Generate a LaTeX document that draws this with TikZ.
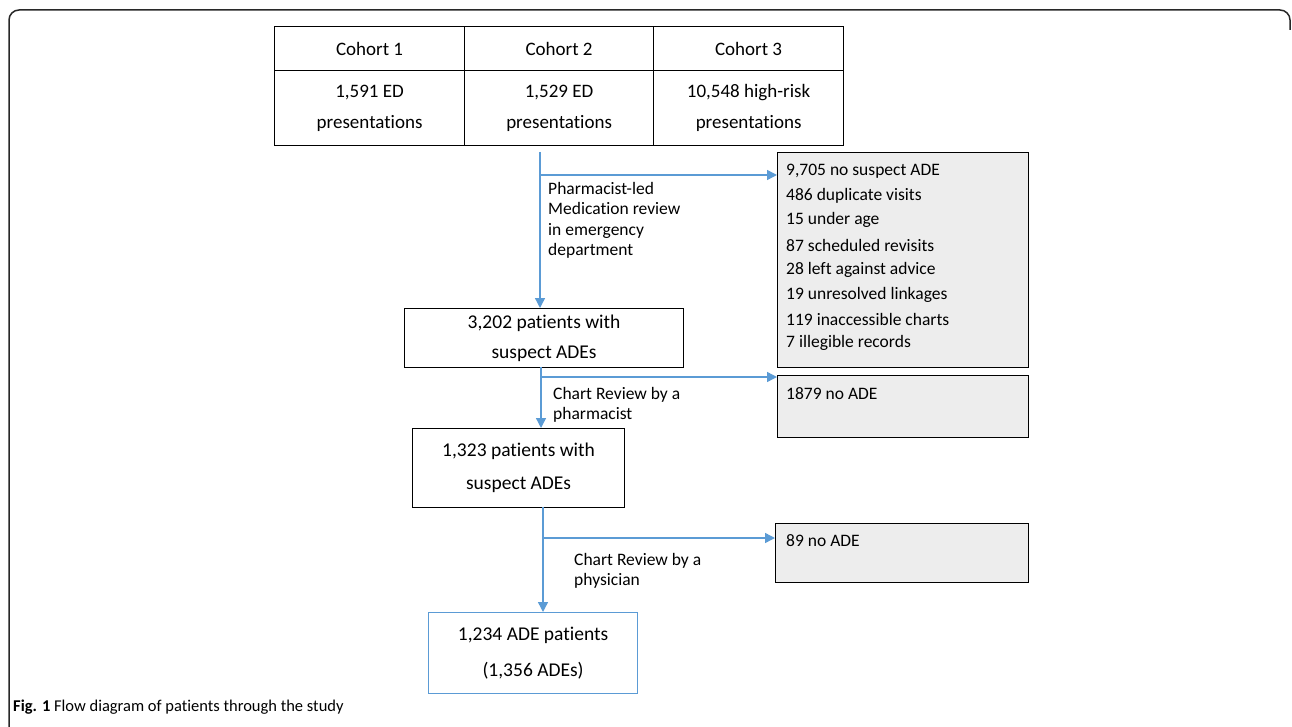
\documentclass[tikz,border=0pt]{standalone}
\usepackage{fontspec}
\setmainfont{Carlito}[Ligatures=NoCommon]
\usetikzlibrary{arrows.meta}
\definecolor{flowblue}{RGB}{91,155,213}
\definecolor{boxgray}{RGB}{237,237,237}
\definecolor{framegray}{RGB}{40,40,40}
\tikzset{
  cell/.style={draw=black, line width=1.2pt, inner sep=0pt, align=center, anchor=north west, font=\fontsize{19}{31}\selectfont},
  mainbox/.style={draw=black, line width=1.2pt, inner sep=0pt, align=center, anchor=north west, font=\fontsize{19.5}{30}\selectfont},
  graybox/.style={draw=black, line width=1.2pt, fill=boxgray, inner sep=0pt, anchor=north west},
  graytext/.style={anchor=west, inner sep=0pt, font=\fontsize{17.5}{20}\selectfont},
  flowlbl/.style={anchor=north west, inner sep=0pt, align=left, font=\fontsize{17.5}{20.5}\selectfont},
  flow/.style={draw=flowblue, line width=1.4pt},
  flowarrow/.style={flow, -{Triangle[length=10pt,width=10pt]}},
}
\begin{document}
\begin{tikzpicture}[x=1pt,y=-1pt]
\useasboundingbox (0,0) rectangle (1292,727);
% frame
\draw[framegray, line width=1.5pt, rounded corners=10pt] (9,727) -- (9,10) -- (1290,10) -- (1290,30);
% table
\node[cell, minimum width=190pt, minimum height=44pt] (c1h) at (274,26) {Cohort 1};
\node[cell, minimum width=189pt, minimum height=44pt] (c2h) at (464,26) {Cohort 2};
\node[cell, minimum width=190pt, minimum height=44pt] (c3h) at (653,26) {Cohort 3};
\node[cell, minimum width=190pt, minimum height=75pt] (c1) at (274,70) {1,591 ED\\presentations};
\node[cell, minimum width=189pt, minimum height=75pt] (c2) at (464,70) {1,529 ED\\presentations};
\node[cell, minimum width=190pt, minimum height=75pt] (c3) at (653,70) {10,548 high-risk\\presentations};
% boxes
\node[mainbox, minimum width=279pt, minimum height=59pt] (b1) at (404,308) {3,202 patients with\\suspect ADEs};
\node[mainbox, minimum width=212pt, minimum height=79pt, font=\fontsize{19.5}{33}\selectfont] (b2) at (412,428) {1,323 patients with\\suspect ADEs};
\node[mainbox, draw=flowblue, minimum width=209pt, minimum height=81pt, font=\fontsize{19.5}{36}\selectfont] (b3) at (428,612) {1,234 ADE patients\\(1,356 ADEs)};
% gray boxes
\node[graybox, minimum width=251pt, minimum height=215pt] (g1) at (777,152) {};
\node[graybox, minimum width=251pt, minimum height=62pt] (g2) at (777,375) {};
\node[graybox, minimum width=253pt, minimum height=59pt] (g3) at (775,523) {};
\node[graytext] (g1a) at (786,171) {9,705 no suspect ADE};
\node[graytext] (g1b) at (786,196) {486 duplicate visits};
\node[graytext] (g1c) at (786,220) {15 under age};
\node[graytext] (g1d) at (786,245) {87 scheduled revisits};
\node[graytext] (g1e) at (786,270) {28 left against advice};
\node[graytext] (g1f) at (786,295) {19 unresolved linkages};
\node[graytext] (g1g) at (786,319) {119 inaccessible charts};
\node[graytext] (g1h) at (786,343) {7 illegible records};
\node[graytext] (g2a) at (786,394) {1879 no ADE};
\node[graytext] (g3a) at (786,541) {89 no ADE};
% labels
\node[flowlbl] (l1) at (548,182) {Pharmacist-led\\Medication review\\in emergency\\department};
\node[flowlbl] (l2) at (553,387) {Chart Review by a\\pharmacist};
\node[flowlbl] (l3) at (574,553) {Chart Review by a\\physician};
% connectors
\coordinate (s1) at (540,152);
\coordinate (s2) at (541,367);
\coordinate (s3) at (543,507);
\coordinate (j1) at (540,175);
\coordinate (j2) at (541,377);
\coordinate (j3) at (543,538);
\draw[flowarrow] (s1) -- (s1 |- b1.north);
\draw[flowarrow] (j1) -- (j1 -| g1.west);
\draw[flowarrow] (s2) -- (s2 |- b2.north);
\draw[flowarrow] (j2) -- (j2 -| g2.west);
\draw[flowarrow] (s3) -- (s3 |- b3.north);
\draw[flowarrow] (j3) -- (j3 -| g3.west);
% caption
\node[anchor=west, inner sep=0pt, font=\fontsize{16.5}{20}\selectfont] (cap) at (13,707) {\textbf{Fig. 1} Flow diagram of patients through the study};
\end{tikzpicture}
\end{document}
